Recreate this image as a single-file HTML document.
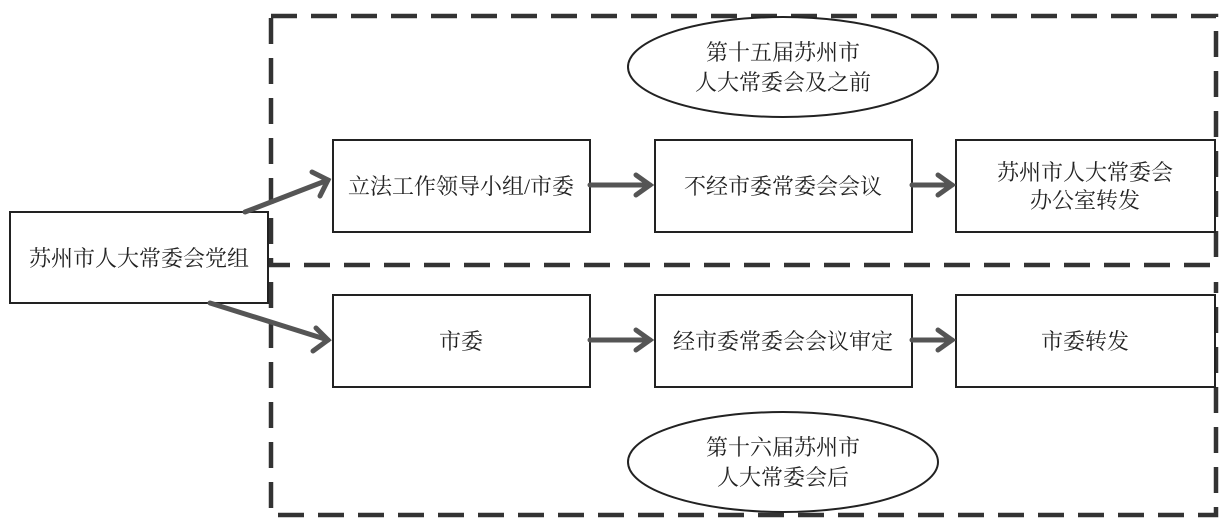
<!DOCTYPE html>
<html><head><meta charset="utf-8"><style>
body{margin:0;background:#fff;}
svg{display:block;}
text{font-family:"Liberation Serif","Noto Serif CJK SC",serif;font-size:22px;fill:#222;}
</style></head><body>
<svg width="1230" height="525" viewBox="0 0 1230 525" xmlns="http://www.w3.org/2000/svg">
<g fill="none" stroke="#333" stroke-width="4.5" stroke-dasharray="26,14">
<rect x="271" y="16" width="945" height="249"/>
<path d="M271 282 V515 H1216 V282"/>
</g>
<g fill="#fff" stroke="#222" stroke-width="2">
<ellipse cx="783" cy="67" rx="155" ry="50"/>
<ellipse cx="783" cy="462" rx="155" ry="50"/>
<rect x="10" y="212" width="258" height="91"/>
<rect x="333" y="140" width="257" height="92"/>
<rect x="655" y="140" width="257" height="92"/>
<rect x="956" y="140" width="259" height="92"/>
<rect x="333" y="295" width="257" height="92"/>
<rect x="655" y="295" width="257" height="92"/>
<rect x="956" y="295" width="259" height="92"/>
</g>
<g stroke="#555" stroke-width="5" fill="none" stroke-linecap="round">
<path d="M245 212 L328 180"/><path d="M312 172 L328 180 L320 196"/>
<path d="M210 303 L328 340"/><path d="M316 328 L328 340 L313 351"/>
<path d="M590 185 L650 185"/><path d="M636 175 L650 185 L636 195"/>
<path d="M912 185 L952 185"/><path d="M938 175 L952 185 L938 195"/>
<path d="M590 340 L650 340"/><path d="M636 330 L650 340 L636 350"/>
<path d="M912 340 L952 340"/><path d="M938 330 L952 340 L938 350"/>
</g>
<g text-anchor="middle">
<text x="783" y="60">第十五届苏州市</text>
<text x="783" y="90">人大常委会及之前</text>
<text x="783" y="455">第十六届苏州市</text>
<text x="783" y="485">人大常委会后</text>
<text x="139" y="266">苏州市人大常委会党组</text>
<text x="461" y="194">立法工作领导小组/市委</text>
<text x="783" y="194">不经市委常委会会议</text>
<text x="1085" y="180">苏州市人大常委会</text>
<text x="1085" y="208">办公室转发</text>
<text x="461" y="349">市委</text>
<text x="783" y="349">经市委常委会会议审定</text>
<text x="1085" y="349">市委转发</text>
</g>
</svg>
</body></html>
